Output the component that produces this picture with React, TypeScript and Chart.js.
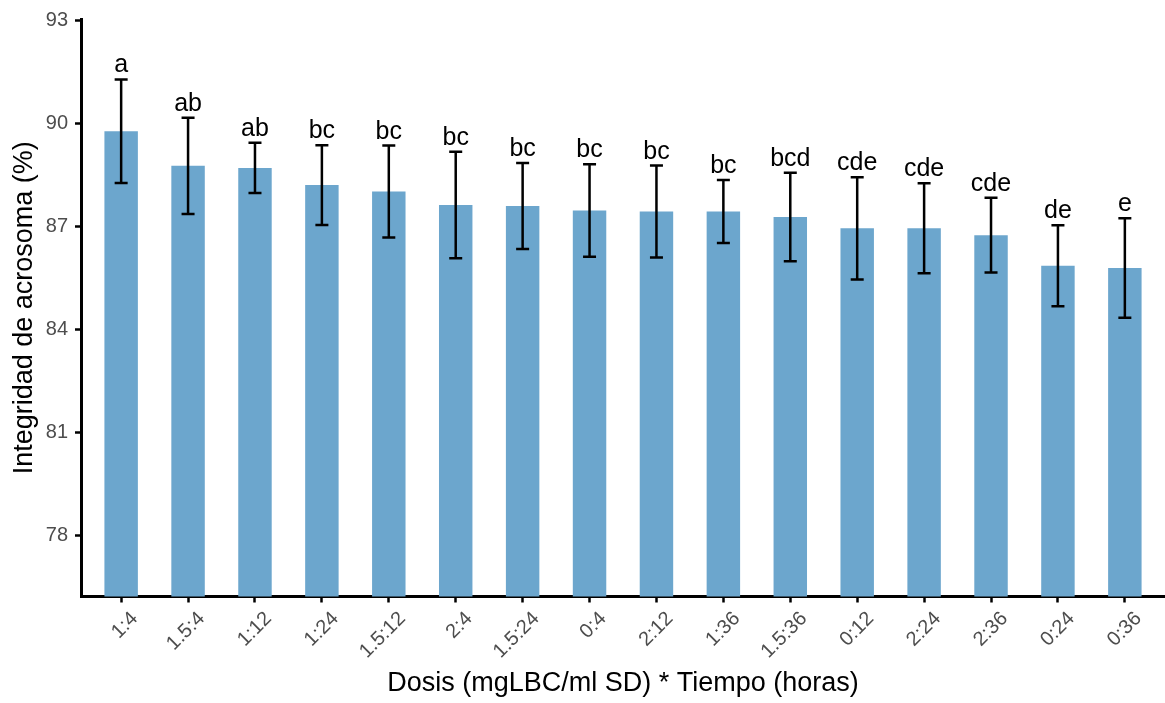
import React, { useEffect, useRef } from "react";
import { Chart, registerables } from "chart.js";

Chart.register(...registerables);

const categories = ["1:4", "1.5:4", "1:12", "1:24", "1.5:12", "2:4", "1.5:24", "0:4", "2:12", "1:36", "1.5:36", "0:12", "2:24", "2:36", "0:24", "0:36"];
const means = [89.78, 88.77, 88.71, 88.21, 88.02, 87.63, 87.6, 87.47, 87.44, 87.44, 87.28, 86.95, 86.95, 86.75, 85.86, 85.79];
const sds = [1.51, 1.4, 0.73, 1.16, 1.34, 1.55, 1.25, 1.35, 1.34, 0.92, 1.29, 1.49, 1.31, 1.09, 1.18, 1.45];
const letters = ["a", "ab", "ab", "bc", "bc", "bc", "bc", "bc", "bc", "bc", "bcd", "cde", "cde", "cde", "de", "e"];
const yTicks = [78, 81, 84, 87, 90, 93];
const yMin = 76.22;
const yMax = 93.05;

const FONT = "'Liberation Sans', Arial, sans-serif";
const W = 1165;
const H = 703;

const errorBarPlugin = {
  id: "errbars",
  afterDatasetsDraw(chart: any) {
    const { ctx } = chart;
    const y = chart.scales.y;
    const meta = chart.getDatasetMeta(0);
    ctx.save();
    ctx.strokeStyle = "#000";
    ctx.lineWidth = 2.5;
    ctx.lineCap = "butt";
    meta.data.forEach((el: any, i: number) => {
      const x = el.x;
      const top = y.getPixelForValue(means[i] + sds[i]);
      const bot = y.getPixelForValue(means[i] - sds[i]);
      ctx.beginPath();
      ctx.moveTo(x, top);
      ctx.lineTo(x, bot);
      ctx.moveTo(x - 6.5, top);
      ctx.lineTo(x + 6.5, top);
      ctx.moveTo(x - 6.5, bot);
      ctx.lineTo(x + 6.5, bot);
      ctx.stroke();
      ctx.fillStyle = "#000";
      ctx.font = `25px ${FONT}`;
      ctx.textAlign = "center";
      ctx.textBaseline = "alphabetic";
      ctx.fillText(letters[i], x, top - 7);
    });
    ctx.restore();
  },
};

const xLabelPlugin = {
  id: "xlabels",
  afterDraw(chart: any) {
    const { ctx } = chart;
    const xs = chart.scales.x;
    ctx.save();
    ctx.font = `20px ${FONT}`;
    ctx.fillStyle = "#4D4D4D";
    ctx.textAlign = "right";
    ctx.textBaseline = "top";
    categories.forEach((c, i) => {
      const px = xs.getPixelForValue(i);
      ctx.save();
      ctx.translate(px + 6.5, xs.top + 12);
      ctx.rotate(-Math.PI / 4);
      ctx.fillText(c, 0, 0);
      ctx.restore();
    });
    ctx.restore();
  },
};

export default function App() {
  const ref = useRef<HTMLCanvasElement | null>(null);

  useEffect(() => {
    if (!ref.current) return;
    const chart = new Chart(ref.current, {
      type: "bar",
      data: {
        datasets: [
          {
            data: categories.map((_, i) => ({ x: i, y: means[i] })),
            backgroundColor: "#6CA6CD",
            borderWidth: 0,
            barPercentage: 0.5,
            categoryPercentage: 1,
          },
        ],
      },
      options: {
        animation: false,
        responsive: false,
        devicePixelRatio: 1,
        layout: { padding: { top: 18, left: 0, right: 0, bottom: 0 } },
        plugins: { legend: { display: false }, tooltip: { enabled: false } },
        scales: {
          x: {
            type: "linear",
            offset: false,
            min: -0.6,
            max: 15.6,
            afterBuildTicks: (s: any) => {
              s.ticks = categories.map((_, i) => ({ value: i }));
            },
            afterFit: (s: any) => {
              s.height = 106.5;
            },
            ticks: {
              display: false,
              callback: (v: any) => categories[v] ?? "",
              autoSkip: false,
            },
            grid: { offset: false, drawOnChartArea: false, drawTicks: true, tickLength: 6, tickWidth: 2.5, tickColor: "#000", color: "#000" },
            border: { display: true, color: "#000", width: 3 },
            title: {
              display: true,
              text: "Dosis (mgLBC/ml SD) * Tiempo (horas)",
              font: { family: FONT, size: 27 },
              color: "#000",
              padding: { top: 0, bottom: 3 },
            },
          },
          y: {
            min: yMin,
            max: yMax,
            afterBuildTicks: (s: any) => {
              s.ticks = yTicks.map((v) => ({ value: v }));
            },
            afterFit: (s: any) => {
              s.width = 81;
            },
            ticks: {
              font: { family: FONT, size: 20 },
              color: "#4D4D4D",
              padding: 7,
            },
            grid: { drawOnChartArea: false, drawTicks: true, tickLength: 6, tickWidth: 2.5, tickColor: "#000", color: "#000" },
            border: { display: true, color: "#000", width: 3 },
            title: {
              display: true,
              text: "Integridad de acrosoma (%)",
              font: { family: FONT, size: 27 },
              color: "#000",
              padding: { top: 8, bottom: 0 },
            },
          },
        },
      },
      plugins: [errorBarPlugin, xLabelPlugin],
    } as any);
    return () => chart.destroy();
  }, []);

  return (
    <div style={{ position: "fixed", left: 0, top: 0, width: W, height: H, background: "#fff" }}>
      <canvas ref={ref} width={W} height={H} style={{ display: "block", width: W, height: H }} />
    </div>
  );
}
